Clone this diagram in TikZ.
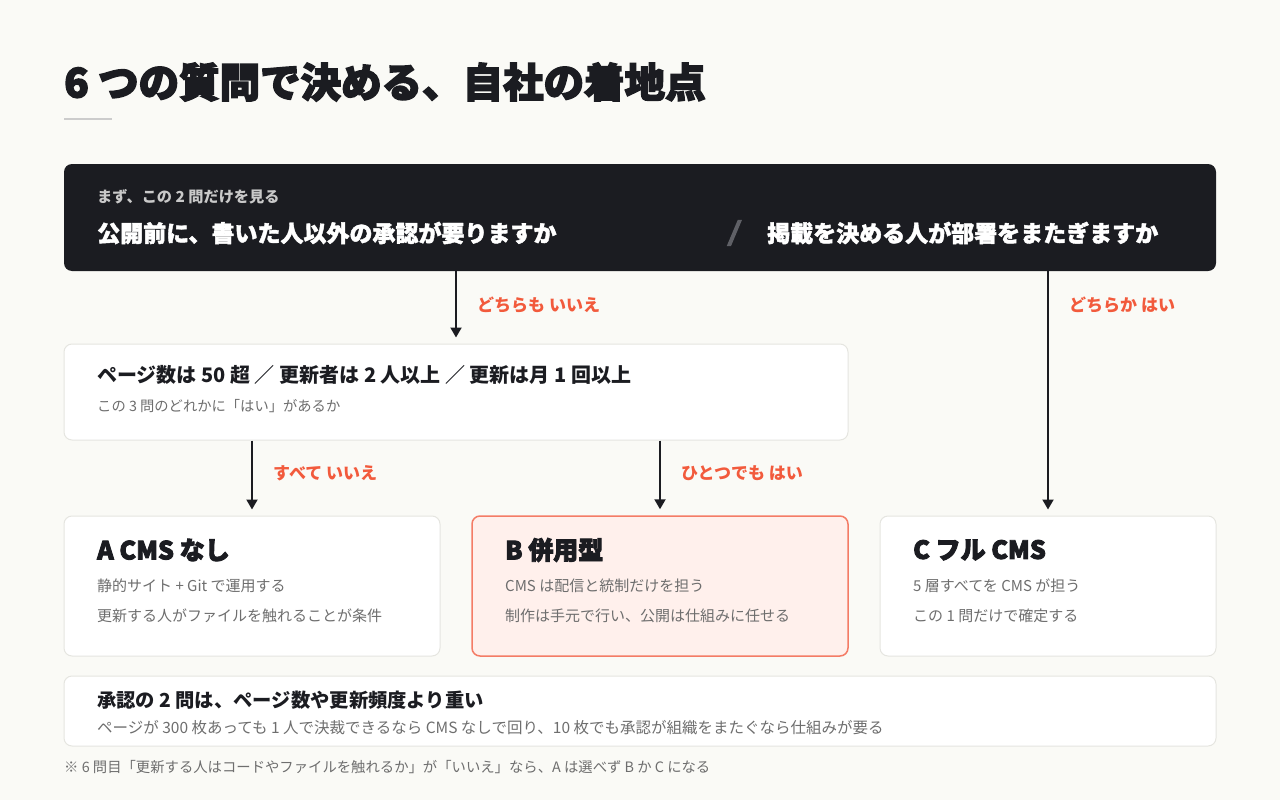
\documentclass[tikz,border=0pt]{standalone}
\usepackage{fontspec}
\setmainfont{Noto Sans CJK JP}
\newfontfamily\heavyfont{Noto Sans CJK JP}[BoldFeatures={FakeBold=3.5}]
\newfontfamily\semiheavyfont{Noto Sans CJK JP}[BoldFeatures={FakeBold=1.8}]
\newfontfamily\slashfont{Noto Sans CJK JP}[BoldFeatures={FakeBold=5,FakeSlant=0.2}]
\usetikzlibrary{arrows.meta}
\definecolor{bg}{HTML}{FAFAF6}
\definecolor{ink}{HTML}{1B1C21}
\definecolor{accent}{HTML}{F25A3C}
\definecolor{bborder}{HTML}{F47C66}
\definecolor{bfill}{HTML}{FFF0EC}
\definecolor{cardline}{HTML}{E5E5E0}
\definecolor{muted}{HTML}{6E6E6E}
\definecolor{subgray}{HTML}{C9C9C9}
\definecolor{slashgray}{HTML}{5F6066}
\definecolor{rulegray}{HTML}{CCCCCC}
\begin{document}
\begin{tikzpicture}[x=1pt,y=-1pt,
  card/.style={rectangle, draw=cardline, line width=1pt, fill=white, rounded corners=8pt, inner sep=0pt},
  txt/.style={anchor=west, inner sep=0pt, align=left},
  lbl/.style={txt, text=accent, font=\fontsize{17}{19}\selectfont\bfseries},
  cardtitle/.style={txt, text=ink, font=\heavyfont\fontsize{25}{28}\selectfont\bfseries},
  cardline1/.style={txt, text=muted, font=\fontsize{15}{17}\selectfont},
  arr/.style={draw=ink, line width=2pt, -{Triangle[length=10pt,width=11pt]}, shorten >=6pt}]
\fill[bg] (0,0) rectangle (1280,800);
\useasboundingbox (0,0) rectangle (1280,800);
% title
\node[txt, text=ink, font=\heavyfont\fontsize{40.5}{44}\selectfont\bfseries] (title) at (64,82) {6 つの質問で決める、自社の着地点};
\draw[rulegray, line width=2pt] (64,119) coordinate (r1) -- (112,119) coordinate (r2);
% top dark box
\node[rectangle, fill=ink, rounded corners=8pt, minimum width=1152pt, minimum height=107pt, inner sep=0pt] (top) at (640,217.5) {};
\node[txt, text=subgray, font=\fontsize{15.2}{17}\selectfont\bfseries] (topsub) at (97,197) {まず、この 2 問だけを見る};
\node[txt, text=white, font=\semiheavyfont\fontsize{23}{25}\selectfont\bfseries] (q1) at (97,233) {公開前に、書いた人以外の承認が要りますか};
\node[txt, text=slashgray, font=\slashfont\fontsize{25}{28}\selectfont\bfseries] (sl) at (728,233) {/};
\node[txt, text=white, font=\semiheavyfont\fontsize{23}{25}\selectfont\bfseries] (q2) at (767,233) {掲載を決める人が部署をまたぎますか};
% question box
\node[card, minimum width=784pt, minimum height=96pt] (q) at (456,392) {};
\node[txt, text=ink, font=\fontsize{20}{22}\selectfont\bfseries] (qt) at (97,375) {ページ数は 50 超 ／ 更新者は 2 人以上 ／ 更新は月 1 回以上};
\node[txt, text=muted, font=\fontsize{14.3}{16}\selectfont] (qs) at (97,406) {この 3 問のどれかに「はい」があるか};
% result cards
\node[card, minimum width=376pt, minimum height=140pt] (a) at (252,586) {};
\node[card, draw=bborder, fill=bfill, line width=1.5pt, minimum width=376pt, minimum height=140pt] (b) at (660,586) {};
\node[card, minimum width=336pt, minimum height=140pt] (c) at (1048,586) {};
\node[cardtitle] (at) at (97,550) {A CMS なし};
\node[cardline1] (a1) at (97,586) {静的サイト + Git で運用する};
\node[cardline1] (a2) at (97,616) {更新する人がファイルを触れることが条件};
\node[cardtitle] (bt) at (505,550) {B 併用型};
\node[cardline1] (b1) at (505,586) {CMS は配信と統制だけを担う};
\node[cardline1] (b2) at (505,616) {制作は手元で行い、公開は仕組みに任せる};
\node[cardtitle] (ct) at (913,550) {C フル CMS};
\node[cardline1] (c1) at (913,586) {5 層すべてを CMS が担う};
\node[cardline1] (c2) at (913,616) {この 1 問だけで確定する};
% bottom note box
\node[card, minimum width=1152pt, minimum height=70pt] (note) at (640,711) {};
\node[txt, text=ink, font=\fontsize{19.3}{21}\selectfont\bfseries] (nt) at (97,700) {承認の 2 問は、ページ数や更新頻度より重い};
\node[txt, text=muted, font=\fontsize{15.5}{17}\selectfont] (ns) at (97,728) {ページが 300 枚あっても 1 人で決裁できるなら CMS なしで回り、10 枚でも承認が組織をまたぐなら仕組みが要る};
\node[txt, text=muted, font=\fontsize{14.35}{16}\selectfont] (foot) at (64,767) {※ 6 問目「更新する人はコードやファイルを触れるか」が「いいえ」なら、A は選べず B か C になる};
% arrows
\draw[arr] (top.south -| q.north) -- (q.north);
\draw[arr] (top.south -| c.north) -- (c.north);
\draw[arr] (q.south -| a.north) -- (a.north);
\draw[arr] (q.south -| b.north) -- (b.north);
\node[lbl] (l1) at (477,305) {どちらも いいえ};
\node[lbl] (l2) at (1069,305) {どちらか はい};
\node[lbl] (l3) at (273,473) {すべて いいえ};
\node[lbl] (l4) at (681,473) {ひとつでも はい};
\end{tikzpicture}
\end{document}
